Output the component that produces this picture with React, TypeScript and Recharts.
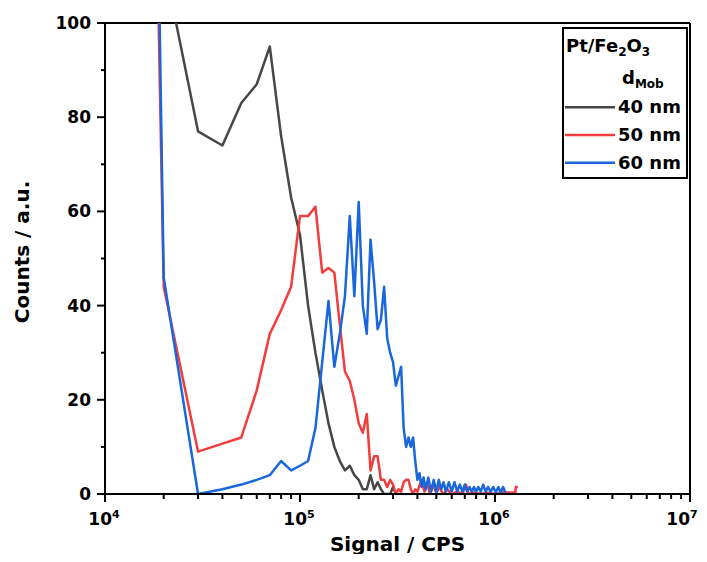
import React from "react";
import { LineChart, Line, XAxis, YAxis, ReferenceLine } from "recharts";

// ---------- data ----------
const x40 = [2e4, 3e4, 4e4, 5e4, 6e4, 7e4, 8e4, 9e4, 1e5, 1.1e5, 1.2e5, 1.3e5, 1.4e5, 1.5e5, 1.6e5, 1.7e5, 1.8e5, 1.9e5, 2e5, 2.1e5, 2.2e5, 2.3e5, 2.4e5, 2.5e5, 2.6e5, 2.7e5, 2.8e5, 2.9e5, 3e5, 3.1e5, 3.2e5, 3.3e5];
const counts40 = [113, 77, 74, 83, 87, 95, 76, 63, 55, 40, 30, 22, 15, 10, 7, 5, 6, 4, 3, 1, 1, 4, 1, 2.5, 1, 0, 0, 0, 1.5, 0, 0, 0];

const x50 = [1e4, 2e4, 3e4, 4e4, 5e4, 6e4, 7e4, 8e4, 9e4, 1e5, 1.1e5, 1.2e5, 1.3e5, 1.4e5, 1.5e5, 1.6e5, 1.7e5, 1.8e5, 1.9e5, 2e5, 2.1e5, 2.2e5, 2.3e5, 2.4e5, 2.5e5,
  2.6e5, 2.7e5, 2.8e5, 2.9e5, 3.0e5, 3.1e5, 3.2e5, 3.3e5, 3.4e5, 3.5e5, 3.6e5, 3.7e5, 3.8e5, 3.9e5, 4.0e5, 4.2e5, 4.35e5, 4.5e5, 4.65e5, 4.8e5, 5.0e5, 5.2e5, 5.4e5, 5.7e5, 6.0e5, 6.4e5, 6.8e5, 7.1e5, 7.3e5, 7.8e5, 8.5e5, 9.0e5, 1.0e6, 1.1e6, 1.2e6, 1.27e6, 1.28e6, 1.31e6];
const counts50 = [697, 44, 9, 10.7, 12, 22, 34, 39, 44, 59, 59, 61, 47, 48, 47, 36, 26, 24, 20, 15, 13, 17, 5, 8, 8,
  3, 3, 1.5, 3, 2, 0, 1, 0.5, 2.5, 3, 3, 1, 0, 1, 0.5, 3, 0.5, 2, 0, 2, 0.3, 1.5, 0, 1, 0, 0.5, 0, 2, 0, 0.3, 0, 0.3, 0, 0.3, 0.3, 0.3, 1.5, 1.5];

const x60 = [1e4, 2e4, 3e4, 4e4, 5e4, 6e4, 7e4, 8e4, 9e4, 1e5, 1.1e5, 1.2e5, 1.3e5, 1.4e5, 1.5e5, 1.6e5, 1.7e5, 1.8e5, 1.9e5, 2e5, 2.1e5, 2.2e5, 2.3e5, 2.4e5, 2.5e5, 2.6e5, 2.7e5, 2.8e5, 2.9e5, 3e5, 3.1e5, 3.2e5, 3.3e5, 3.4e5, 3.5e5, 3.6e5, 3.7e5, 3.8e5, 3.9e5, 4e5,
  4.1e5, 4.2e5, 4.3e5, 4.4e5, 4.55e5, 4.7e5, 4.85e5, 5.0e5, 5.15e5, 5.3e5, 5.45e5, 5.6e5, 5.8e5, 6.0e5, 6.2e5, 6.4e5, 6.6e5, 6.8e5, 7.0e5, 7.2e5, 7.4e5, 7.6e5, 7.8e5, 8.0e5, 8.2e5, 8.45e5, 8.7e5, 8.95e5, 9.2e5, 9.5e5, 9.8e5, 1.01e6, 1.04e6, 1.07e6, 1.1e6, 1.13e6];
const counts60 = [831, 46, 0, 1, 2, 3, 4, 7, 5, 6, 7, 14, 28, 41, 27, 34, 42, 59, 42, 62, 40, 34, 54, 45, 35, 37, 44, 33, 30, 28, 23, 25, 27, 14, 10, 12, 10, 12, 7, 3,
  4.4, 1.5, 3.5, 1, 3.5, 0.5, 3, 0.5, 3, 1, 2.5, 0.5, 2.5, 0.5, 2.5, 0.5, 2, 0.5, 2, 0.5, 1.5, 0.5, 1.5, 0.5, 1.5, 0.5, 2, 0.5, 1.5, 0.5, 1.5, 0.3, 1.5, 0.3, 1.5, 0.3];

const seriesNames = ["40 nm", "50 nm", "60 nm"];
const seriesColors = ["#474747", "#f43c3c", "#1a66dc"];

const xMajorTicks = [1e4, 1e5, 1e6, 1e7];
const xTicks: number[] = [];
[1e4, 1e5, 1e6].forEach((d) => { for (let m = 1; m <= 9; m++) xTicks.push(d * m); });
xTicks.push(1e7);
const yTicks = [0, 10, 20, 30, 40, 50, 60, 70, 80, 90, 100];
const yLabelTicks = [0, 20, 40, 60, 80, 100];

const toData = (xs: number[], ys: number[]) => xs.map((x, i) => ({ x, y: ys[i] }));
const data40 = toData(x40, counts40);
const data50 = toData(x50, counts50);
const data60 = toData(x60, counts60);

const FONT = "'DejaVu Sans', sans-serif";

const YTick = (props: any) => {
  const { x, y, payload } = props;
  const v = payload.value;
  const major = yLabelTicks.includes(v);
  return (
    <g>
      <line x1={x - (major ? 8 : 4)} x2={x} y1={y} y2={y} stroke="#000" strokeWidth={2} />
      {major && (
        <text x={x - 14} y={y + 6} textAnchor="end" fontFamily={FONT} fontWeight="bold" fontSize={17} fill="#000">
          {v}
        </text>
      )}
    </g>
  );
};

const XTick = (props: any) => {
  const { x, y, payload } = props;
  const v = payload.value;
  const major = xMajorTicks.some((m) => Math.abs(m - v) / m < 1e-9);
  const exp = Math.round(Math.log10(v));
  const shift = exp === 7 ? -8 : -1;
  return (
    <g>
      <line x1={x} x2={x} y1={y} y2={y + (major ? 8 : 5)} stroke="#000" strokeWidth={2} />
      {major && (
        <text x={x + shift} y={y + 31} textAnchor="middle" fontFamily={FONT} fontWeight="bold" fontSize={17} fill="#000">
          <tspan>10</tspan>
          <tspan dy={-7} fontSize={11}>{exp}</tspan>
        </text>
      )}
    </g>
  );
};

export default function App() {
  const rows = [99.3, 127, 154.7];
  return (
    <div style={{ position: "relative", width: 699, height: 546 }}>
      <style>{`html, body { overflow: hidden; } #root { width: 699px; } .recharts-surface, .recharts-wrapper { overflow: visible !important; }`}</style>
      <LineChart width={699} height={546} margin={{ top: 15, right: 17, left: 37, bottom: 30 }}>
        <XAxis
          dataKey="x"
          type="number"
          scale="log"
          domain={[1e4, 1e7]}
          allowDataOverflow
          ticks={xTicks}
          interval={0}
          tick={<XTick />}
          tickLine={false}
          tickSize={0}
          tickMargin={0}
          height={30}
          axisLine={{ stroke: "#000", strokeWidth: 2 }}
        />
        <YAxis
          dataKey="y"
          type="number"
          domain={[0, 100]}
          allowDataOverflow
          ticks={yTicks}
          interval={0}
          tick={<YTick />}
          tickLine={false}
          tickSize={0}
          tickMargin={0}
          width={60}
          axisLine={{ stroke: "#000", strokeWidth: 2 }}
        />
        <ReferenceLine y={100} stroke="#000" strokeWidth={2} />
        <ReferenceLine x={1e7} stroke="#000" strokeWidth={2} />
        <Line data={data40} dataKey="y" name={seriesNames[0]} stroke={seriesColors[0]} strokeWidth={2.5} dot={false} isAnimationActive={false} type="linear" strokeLinejoin="round" />
        <Line data={data50} dataKey="y" name={seriesNames[1]} stroke={seriesColors[1]} strokeWidth={2.5} dot={false} isAnimationActive={false} type="linear" strokeLinejoin="round" />
        <Line data={data60} dataKey="y" name={seriesNames[2]} stroke={seriesColors[2]} strokeWidth={2.5} dot={false} isAnimationActive={false} type="linear" strokeLinejoin="round" />
      </LineChart>
      <svg width={699} height={546} style={{ position: "absolute", left: 0, top: 0, pointerEvents: "none", overflow: "visible" }}>
        <text x={389.5} y={543} textAnchor="middle" fontFamily={FONT} fontWeight="bold" fontSize={20} fill="#000">Signal / CPS</text>
        <text x={21} y={244} transform="rotate(-90 21 244)" textAnchor="middle" fontFamily={FONT} fontWeight="bold" fontSize={20} fill="#000">Counts / a.u.</text>
        <rect x={555} y={20} width={124} height={150} fill="#fff" stroke="#000" strokeWidth={2} />
        <text x={558} y={44} fontFamily={FONT} fontWeight="bold" fontSize={18} fill="#000">
          <tspan>Pt/Fe</tspan>
          <tspan dy={4} fontSize={12}>2</tspan>
          <tspan dy={-4}>O</tspan>
          <tspan dy={4} fontSize={12}>3</tspan>
        </text>
        <text x={614} y={76} fontFamily={FONT} fontWeight="bold" fontSize={18} fill="#000">
          <tspan>d</tspan>
          <tspan dy={4} fontSize={12}>Mob</tspan>
        </text>
        {rows.map((ry, i) => (
          <g key={i}>
            <line x1={557} x2={607} y1={ry} y2={ry} stroke={seriesColors[i]} strokeWidth={2.5} />
            <text x={610} y={ry + 6} fontFamily={FONT} fontWeight="bold" fontSize={18} fill="#000">{seriesNames[i]}</text>
          </g>
        ))}
      </svg>
    </div>
  );
}
